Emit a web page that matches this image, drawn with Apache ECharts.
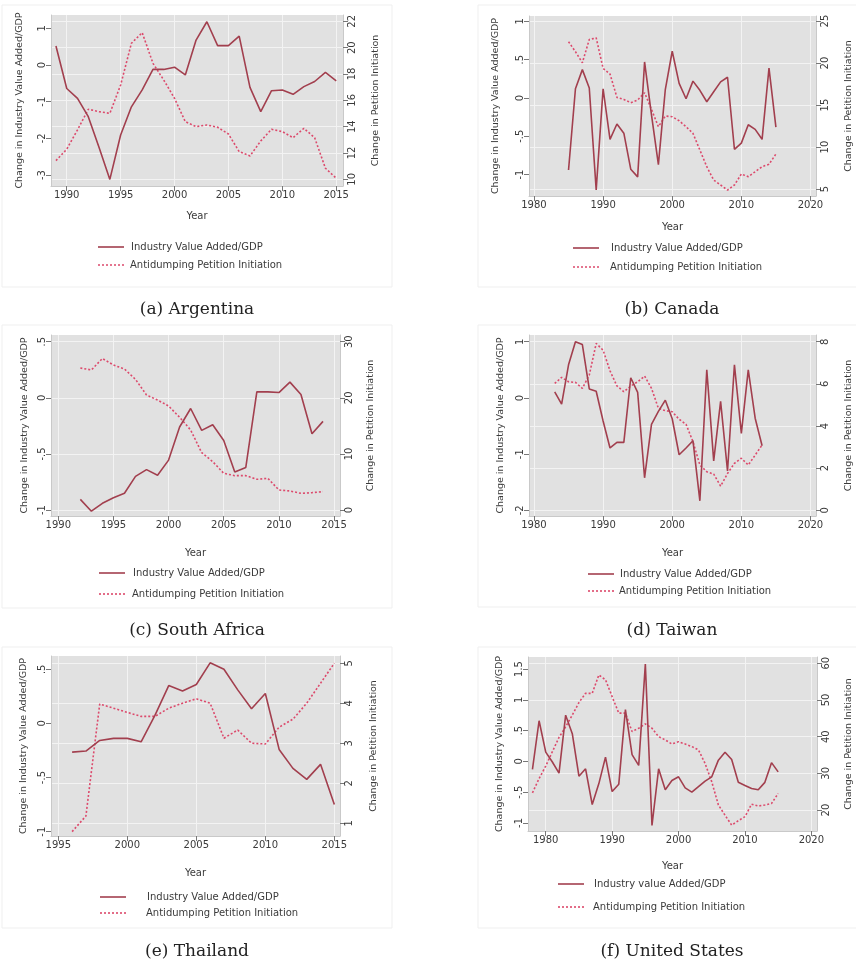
<!DOCTYPE html>
<html><head><meta charset="utf-8">
<script src="https://cdn.jsdelivr.net/npm/echarts@6/dist/echarts.min.js"></script>
<style>html,body{margin:0;padding:0;background:#fff}#c{width:856px;height:964px}</style>
</head><body><div id="c"></div>
<script>
// ---------- DATA ----------
const seriesNames = ['Industry Value Added/GDP', 'Antidumping Petition Initiation'];
const usSeriesNames = ['Industry value Added/GDP', 'Antidumping Petition Initiation'];
const captions = ['(a) Argentina', '(b) Canada', '(c) South Africa', '(d) Taiwan', '(e) Thailand', '(f) United States'];
const yearTitle = 'Year';
const leftTitle = 'Change in Industry Value Added/GDP';
const rightTitle = 'Change in Petition Initiation';

// (a) Argentina
const argYears = [1989,1990,1991,1992,1993,1994,1995,1996,1997,1998,1999,2000,2001,2002,2003,2004,2005,2006,2007,2008,2009,2010,2011,2012,2013,2014,2015];
const argIndustry = [0.52,-0.64,-0.91,-1.41,-2.25,-3.12,-1.91,-1.14,-0.68,-0.12,-0.12,-0.06,-0.27,0.68,1.18,0.53,0.53,0.79,-0.61,-1.27,-0.70,-0.68,-0.80,-0.59,-0.45,-0.20,-0.43];
const argPetition = [11.42,12.28,13.75,15.32,15.14,15.01,17.16,20.33,21.14,18.81,17.54,16.15,14.38,14.0,14.13,13.95,13.44,12.1,11.77,12.91,13.8,13.62,13.16,13.87,13.16,10.84,10.08];
const argYearTicks = [1990,1995,2000,2005,2010,2015];
const argLeftTicks = [-3,-2,-1,0,1];
const argRightTicks = [10,12,14,16,18,20,22];

// (b) Canada
const canYears = [1985,1986,1987,1988,1989,1990,1991,1992,1993,1994,1995,1996,1997,1998,1999,2000,2001,2002,2003,2004,2005,2006,2007,2008,2009,2010,2011,2012,2013,2014,2015];
const canIndustry = [-0.94,0.12,0.37,0.13,-1.20,0.12,-0.54,-0.34,-0.46,-0.93,-1.03,0.47,-0.22,-0.87,0.11,0.61,0.19,-0.01,0.22,0.10,-0.05,0.08,0.21,0.27,-0.67,-0.59,-0.35,-0.41,-0.54,0.39,-0.38];
const canPetition = [22.54,21.35,20.04,22.8,23.0,19.37,18.69,15.91,15.67,15.28,15.6,16.47,14.48,12.42,13.69,13.61,13.13,12.42,11.63,9.64,7.66,6.07,5.48,4.88,5.48,6.79,6.47,7.06,7.66,7.94,9.17];
const canYearTicks = [1980,1990,2000,2010,2020];
const canLeftTicks = [-1,-0.5,0,0.5,1];
const canRightTicks = [5,10,15,20,25];

// (c) South Africa
const zafYears = [1992,1993,1994,1995,1996,1997,1998,1999,2000,2001,2002,2003,2004,2005,2006,2007,2008,2009,2010,2011,2012,2013,2014];
const zafIndustry = [-0.905,-1.01,-0.94,-0.89,-0.85,-0.70,-0.64,-0.69,-0.555,-0.26,-0.095,-0.29,-0.24,-0.38,-0.66,-0.62,0.053,0.053,0.047,0.14,0.03,-0.32,-0.21];
const zafPetition = [25.3,24.96,27.0,25.85,25.13,23.29,20.5,19.6,18.54,16.52,14.26,10.22,8.62,6.54,6.12,6.12,5.47,5.64,3.57,3.39,2.97,3.09,3.27];
const zafYearTicks = [1990,1995,2000,2005,2010,2015];
const zafLeftTicks = [-1,-0.5,0,0.5];
const zafRightTicks = [0,10,20,30];

// (d) Taiwan
const twnYears = [1983,1984,1985,1986,1987,1988,1989,1990,1991,1992,1993,1994,1995,1996,1997,1998,1999,2000,2001,2002,2003,2004,2005,2006,2007,2008,2009,2010,2011,2012,2013];
const twnIndustry = [0.11,-0.11,0.59,1.0,0.95,0.16,0.12,-0.41,-0.89,-0.79,-0.79,0.36,0.10,-1.42,-0.47,-0.24,-0.04,-0.37,-1.01,-0.89,-0.76,-1.83,0.50,-1.12,-0.06,-1.30,0.59,-0.63,0.50,-0.36,-0.85];
const twnPetition = [6.02,6.31,6.10,6.07,5.79,6.42,7.92,7.60,6.62,5.90,5.63,5.90,6.10,6.37,5.79,4.84,4.73,4.68,4.32,4.08,3.26,2.15,1.83,1.72,1.15,1.75,2.23,2.47,2.15,2.62,3.10];
const twnYearTicks = [1980,1990,2000,2010,2020];
const twnLeftTicks = [-2,-1,0,1];
const twnRightTicks = [0,2,4,6,8];

// (e) Thailand
const thaYears = [1996,1997,1998,1999,2000,2001,2002,2003,2004,2005,2006,2007,2008,2009,2010,2011,2012,2013,2014,2015];
const thaIndustry = [-0.265,-0.255,-0.157,-0.138,-0.138,-0.17,0.074,0.35,0.30,0.36,0.56,0.50,0.31,0.135,0.277,-0.24,-0.415,-0.517,-0.378,-0.75];
const thaPetition = [0.79,1.18,3.98,3.875,3.77,3.67,3.67,3.875,4.0,4.11,4.0,3.125,3.33,3.0,2.98,3.4,3.6,4.0,4.5,5.0];
const thaYearTicks = [1995,2000,2005,2010,2015];
const thaLeftTicks = [-1,-0.5,0,0.5];
const thaRightTicks = [1,2,3,4,5];

// (f) United States
const usaYears = [1978,1979,1980,1981,1982,1983,1984,1985,1986,1987,1988,1989,1990,1991,1992,1993,1994,1995,1996,1997,1998,1999,2000,2001,2002,2003,2004,2005,2006,2007,2008,2009,2010,2011,2012,2013,2014,2015];
const usaIndustry = [-0.13,0.66,0.15,-0.01,-0.19,0.75,0.45,-0.24,-0.12,-0.70,-0.36,0.07,-0.49,-0.37,0.84,0.11,-0.065,1.58,-1.04,-0.12,-0.46,-0.31,-0.25,-0.43,-0.50,-0.41,-0.32,-0.25,0.02,0.15,0.03,-0.34,-0.39,-0.44,-0.46,-0.34,-0.02,-0.17];
const usaPetition = [24.7,28.6,32.0,35.9,39.8,42.7,45.9,49.3,51.8,51.8,56.8,55.5,50.9,46.4,46.4,41.4,42.3,43.5,42.3,40.0,39.1,38.0,38.6,38.0,37.3,36.4,32.7,27.7,21.4,18.6,15.9,17.1,18.2,21.6,21.1,21.4,21.8,24.5];
const usaYearTicks = [1980,1990,2000,2010,2020];
const usaLeftTicks = [-1,-0.5,0,0.5,1,1.5];
const usaRightTicks = [20,30,40,50,60];

// ---------- LAYOUT ----------
const panels = [
  {years:argYears, ind:argIndustry, pet:argPetition, xT:argYearTicks, lT:argLeftTicks, rT:argRightTicks, names:seriesNames,
   grid:{left:51,top:15,width:292,height:171}, x:[1988.54,2015.63], l:[-3.30,1.364], r:[9.49,22.48],
   xGap:25, lGap:26, rGap:28, card:[2,5,390,282], cap:[197,310], leg:[98,247,265,131]},
  {years:canYears, ind:canIndustry, pet:canPetition, xT:canYearTicks, lT:canLeftTicks, rT:canRightTicks, names:seriesNames,
   grid:{left:529,top:16,width:287,height:180}, x:[1979.28,2020.8], l:[-1.28,1.07], r:[4.17,25.6],
   xGap:26, lGap:28, rGap:28, card:[478,5,380,282], cap:[672,310], leg:[573,248,267,611]},
  {years:zafYears, ind:zafIndustry, pet:zafPetition, xT:zafYearTicks, lT:zafLeftTicks, rT:zafRightTicks, names:seriesNames,
   grid:{left:51,top:335,width:289,height:181}, x:[1989.34,2015.54], l:[-1.053,0.56], r:[-1.07,31.19],
   xGap:32, lGap:21, rGap:26, card:[2,325,390,283], cap:[197,631], leg:[99,573,594,133]},
  {years:twnYears, ind:twnIndustry, pet:twnPetition, xT:twnYearTicks, lT:twnLeftTicks, rT:twnRightTicks, names:seriesNames,
   grid:{left:529,top:335,width:287,height:181}, x:[1979.28,2020.8], l:[-2.10,1.12], r:[-0.27,8.32],
   xGap:32, lGap:23, rGap:28, card:[478,325,380,282], cap:[672,631], leg:[588,574,591,620]},
  {years:thaYears, ind:thaIndustry, pet:thaPetition, xT:thaYearTicks, lT:thaLeftTicks, rT:thaRightTicks, names:seriesNames,
   grid:{left:51,top:656,width:289,height:180}, x:[1994.47,2015.41], l:[-1.04,0.623], r:[0.68,5.18],
   xGap:32, lGap:22, rGap:29, card:[2,647,390,281], cap:[197,952], leg:[100,897,913,147]},
  {years:usaYears, ind:usaIndustry, pet:usaPetition, xT:usaYearTicks, lT:usaLeftTicks, rT:usaRightTicks, names:usSeriesNames,
   grid:{left:528,top:657,width:289,height:174}, x:[1977.33,2020.85], l:[-1.13,1.695], r:[14.3,61.7],
   xGap:30, lGap:23, rGap:27, card:[478,647,380,281], cap:[672,952], leg:[558,884,907,594]}
];

const FONT = 'DejaVu Sans';
const TXT = '#3a3a3a';
const SOLID = '#a23f4e';
const DOT = '#dc4a6c';
const PLOTBG = '#e1e1e1';
const GRIDLINE = '#f3f3f3';

function stata(v){
  let s = String(Math.round(v*100)/100);
  return s.replace(/^0\./,'.').replace(/^-0\./,'-.');
}

const grid = [], xAxis = [], yAxis = [], series = [], graphic = [];
panels.forEach((p, i) => {
  grid.push(Object.assign({show:true, backgroundColor:PLOTBG, borderWidth:0, containLabel:false}, p.grid));
  const tickStyle = {show:true, length:5, lineStyle:{color:'#777', width:1}};
  const labStyle = {fontFamily:FONT, fontSize:10, color:TXT};
  xAxis.push({
    gridIndex:i, type:'value', min:p.x[0], max:p.x[1],
    name:yearTitle, nameLocation:'middle', nameGap:p.xGap,
    nameTextStyle:{fontFamily:FONT, fontSize:10, color:TXT},
    axisLine:{show:true, onZero:false, lineStyle:{color:'#c9c9c9'}},
    axisTick:Object.assign({customValues:p.xT}, tickStyle),
    axisLabel:Object.assign({customValues:p.xT, margin:4, formatter:v=>String(v)}, labStyle),
    splitLine:{show:true, lineStyle:{color:GRIDLINE, width:1}}
  });
  yAxis.push({
    gridIndex:i, type:'value', position:'left', min:p.l[0], max:p.l[1],
    name:leftTitle, nameLocation:'middle', nameGap:p.lGap, nameRotate:90,
    nameTextStyle:{fontFamily:FONT, fontSize:9.5, color:TXT},
    axisLine:{show:true, onZero:false, lineStyle:{color:'#c9c9c9'}},
    axisTick:Object.assign({customValues:p.lT}, tickStyle),
    axisLabel:Object.assign({customValues:p.lT, rotate:90, margin:4, formatter:stata}, labStyle),
    splitLine:{show:false}
  });
  yAxis.push({
    gridIndex:i, type:'value', position:'right', min:p.r[0], max:p.r[1],
    name:rightTitle, nameLocation:'middle', nameGap:p.rGap, nameRotate:90,
    nameTextStyle:{fontFamily:FONT, fontSize:9.5, color:TXT},
    axisLine:{show:true, onZero:false, lineStyle:{color:'#c9c9c9'}},
    axisTick:Object.assign({customValues:p.rT}, tickStyle),
    axisLabel:Object.assign({customValues:p.rT, rotate:90, margin:4, formatter:v=>String(v)}, labStyle),
    splitLine:{show:true, lineStyle:{color:GRIDLINE, width:1}}
  });
  series.push({
    name:p.names[0], type:'line', xAxisIndex:i, yAxisIndex:2*i, symbol:'none', silent:true,
    data:p.years.map((y,k)=>[y,p.ind[k]]),
    lineStyle:{color:SOLID, width:1.6}, z:3
  });
  series.push({
    name:p.names[1], type:'line', xAxisIndex:i, yAxisIndex:2*i+1, symbol:'none', silent:true,
    data:p.years.map((y,k)=>[y,p.pet[k]]),
    lineStyle:{color:DOT, width:1.6, type:[2,2]}, z:2
  });
  // card
  graphic.push({type:'rect', z:-10, silent:true, shape:{x:p.card[0], y:p.card[1], width:p.card[2], height:p.card[3]},
    style:{fill:'#ffffff', stroke:'#efefef', lineWidth:1}});
  // caption
  graphic.push({type:'text', x:p.cap[0], y:p.cap[1], silent:true,
    style:{text:captions[i], font:'17px "DejaVu Serif"', fill:'#222', align:'center', verticalAlign:'middle'}});
  // legend
  const lx = p.leg[0], y1 = p.leg[1], y2 = p.leg[2], tx = p.leg[3];
  graphic.push({type:'line', silent:true, shape:{x1:lx, y1:y1, x2:lx+26, y2:y1}, style:{stroke:SOLID, lineWidth:1.6}});
  graphic.push({type:'line', silent:true, shape:{x1:lx, y1:y2, x2:lx+26, y2:y2}, style:{stroke:DOT, lineWidth:1.6, lineDash:[2,2]}});
  graphic.push({type:'text', x:tx, y:y1, silent:true, style:{text:p.names[0], font:'10px "DejaVu Sans"', fill:TXT, verticalAlign:'middle'}});
  graphic.push({type:'text', x:tx-1, y:y2, silent:true, style:{text:p.names[1], font:'10px "DejaVu Sans"', fill:TXT, verticalAlign:'middle'}});
});

const chart = echarts.init(document.getElementById('c'), null, {renderer:'canvas', width:856, height:964});
chart.setOption({
  animation:false,
  backgroundColor:'#ffffff',
  grid, xAxis, yAxis, series, graphic
});
</script>
</body></html>
